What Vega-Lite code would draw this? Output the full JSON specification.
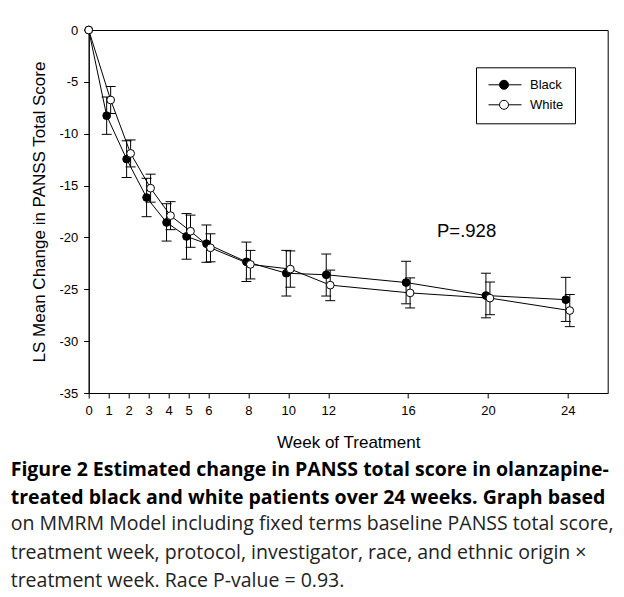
{
  "$schema": "https://vega.github.io/schema/vega-lite/v6.json",
  "autosize": {"type": "none"},
  "padding": {"left": 88.7, "top": 30, "right": 16.3, "bottom": 204},
  "width": 519,
  "height": 363,
  "background": "white",
  "config": {
    "view": {"stroke": "black", "strokeWidth": 1},
    "axis": {
      "domainColor": "black", "tickColor": "black", "labelColor": "black", "titleColor": "black",
      "labelFont": "Liberation Sans", "titleFont": "Liberation Sans",
      "labelFontSize": 13, "titleFontSize": 17, "titleFontWeight": "normal",
      "grid": false, "tickSize": 5, "domainWidth": 1, "tickWidth": 1,
      "labelExpr": "replace(datum.label, '\u2212', '-')"
    }
  },
  "title": {
    "text": ["Figure 2 Estimated change in PANSS total score in olanzapine-", "treated black and white patients over 24 weeks. Graph based"],
    "subtitle": ["on MMRM Model including fixed terms baseline PANSS total score,", "treatment week, protocol, investigator, race, and ethnic origin ×", "treatment week. Race P-value = 0.93."],
    "orient": "bottom", "anchor": "start", "frame": "group", "dx": -78, "offset": 11,
    "font": "Open Sans", "fontSize": 19.5, "fontWeight": "bold", "color": "black", "lineHeight": 28,
    "subtitleFont": "Open Sans", "subtitleFontSize": 19.5, "subtitleFontWeight": "normal", "subtitleColor": "#222",
    "subtitleLineHeight": 28.5, "subtitlePadding": 6.5
  },
  "datasets": {
    "series": [
      {"week": 0, "race": "Black", "mean": 0, "lo": null, "hi": null},
      {"week": 1, "race": "Black", "mean": -8.26, "lo": -10.06, "hi": -6.46},
      {"week": 2, "race": "Black", "mean": -12.45, "lo": -14.22, "hi": -10.68},
      {"week": 3, "race": "Black", "mean": -16.15, "lo": -18.0, "hi": -14.3},
      {"week": 4, "race": "Black", "mean": -18.55, "lo": -20.35, "hi": -16.75},
      {"week": 5, "race": "Black", "mean": -19.9, "lo": -22.1, "hi": -17.7},
      {"week": 6, "race": "Black", "mean": -20.6, "lo": -22.4, "hi": -18.8},
      {"week": 8, "race": "Black", "mean": -22.35, "lo": -24.25, "hi": -20.45},
      {"week": 10, "race": "Black", "mean": -23.45, "lo": -25.65, "hi": -21.25},
      {"week": 12, "race": "Black", "mean": -23.6, "lo": -25.65, "hi": -21.6},
      {"week": 16, "race": "Black", "mean": -24.35, "lo": -26.4, "hi": -22.3},
      {"week": 20, "race": "Black", "mean": -25.6, "lo": -27.75, "hi": -23.45},
      {"week": 24, "race": "Black", "mean": -26.0, "lo": -28.1, "hi": -23.85},
      {"week": 0, "race": "White", "mean": 0, "lo": null, "hi": null},
      {"week": 1, "race": "White", "mean": -6.75, "lo": -8.05, "hi": -5.45},
      {"week": 2, "race": "White", "mean": -11.9, "lo": -13.2, "hi": -10.6},
      {"week": 3, "race": "White", "mean": -15.25, "lo": -16.6, "hi": -13.9},
      {"week": 4, "race": "White", "mean": -17.9, "lo": -19.25, "hi": -16.55},
      {"week": 5, "race": "White", "mean": -19.4, "lo": -20.95, "hi": -17.85},
      {"week": 6, "race": "White", "mean": -21.0, "lo": -22.35, "hi": -19.65},
      {"week": 8, "race": "White", "mean": -22.6, "lo": -24.0, "hi": -21.25},
      {"week": 10, "race": "White", "mean": -23.05, "lo": -24.8, "hi": -21.3},
      {"week": 12, "race": "White", "mean": -24.6, "lo": -26.1, "hi": -23.15},
      {"week": 16, "race": "White", "mean": -25.35, "lo": -26.8, "hi": -23.9},
      {"week": 20, "race": "White", "mean": -25.85, "lo": -27.45, "hi": -24.3},
      {"week": 24, "race": "White", "mean": -27.05, "lo": -28.6, "hi": -25.5}
    ],
    "notes": [{"label": "P=.928", "week": 17.45, "value": -19.35}]
  },
  "data": {"name": "series"},
  "encoding": {
    "x": {"field": "week", "type": "quantitative",
      "scale": {"domain": [0, 26], "nice": false, "zero": false},
      "axis": {"title": "Week of Treatment", "values": [0, 1, 2, 3, 4, 5, 6, 8, 10, 12, 16, 20, 24], "labelPadding": 6, "titlePadding": 17, "labelFlush": false}},
    "y": {"field": "mean", "type": "quantitative",
      "scale": {"domain": [-35, 0], "nice": false, "zero": false},
      "axis": {"title": "LS Mean Change in PANSS Total Score", "values": [0, -5, -10, -15, -20, -25, -30, -35], "labelPadding": 6, "titlePadding": 10, "labelFlush": false}}
  },
  "layer": [
    {
      "mark": {"type": "line", "color": "black", "strokeWidth": 1, "xOffset": {"expr": "datum.week == 0 ? 0 : (datum.race == 'Black' ? -2 : 2)"}},
      "encoding": {"detail": {"field": "race", "type": "nominal"}}
    },
    {
      "mark": {"type": "rule", "color": "black", "strokeWidth": 1, "xOffset": {"expr": "datum.race == 'Black' ? -2 : 2"}},
      "encoding": {"y": {"field": "lo", "type": "quantitative"}, "y2": {"field": "hi"}}
    },
    {
      "mark": {"type": "tick", "orient": "horizontal", "size": 10, "thickness": 1, "color": "black", "opacity": 1, "xOffset": {"expr": "datum.race == 'Black' ? -2 : 2"}},
      "encoding": {"y": {"field": "lo", "type": "quantitative"}}
    },
    {
      "mark": {"type": "tick", "orient": "horizontal", "size": 10, "thickness": 1, "color": "black", "opacity": 1, "xOffset": {"expr": "datum.race == 'Black' ? -2 : 2"}},
      "encoding": {"y": {"field": "hi", "type": "quantitative"}}
    },
    {
      "mark": {"type": "point", "shape": "circle", "filled": true, "size": 60, "stroke": "black", "strokeWidth": 1, "opacity": 1, "xOffset": {"expr": "datum.week == 0 ? 0 : (datum.race == 'Black' ? -2 : 2)"}},
      "encoding": {
        "fill": {"field": "race", "type": "nominal",
          "scale": {"domain": ["Black", "White"], "range": ["black", "white"]},
          "legend": {
            "title": null, "orient": "none", "legendX": 387.3, "legendY": 37.3, "direction": "vertical",
            "padding": 11, "rowPadding": 5, "labelOffset": 30,
            "strokeColor": "black", "fillColor": "white", "cornerRadius": 0,
            "labelFont": "Liberation Sans", "labelFontSize": 13, "labelColor": "black",
            "symbolSize": 4, "symbolStrokeColor": "black", "symbolStrokeWidth": 1, "symbolOpacity": 1,
            "symbolType": "M-5,0H6M15,0H28M6,0A4.5,4.5 0 1,1 15,0A4.5,4.5 0 1,1 6,0Z"
          }}
      }
    },
    {
      "data": {"name": "notes"},
      "mark": {"type": "text", "align": "left", "baseline": "middle", "font": "Liberation Sans", "fontSize": 18.5, "color": "black"},
      "encoding": {"x": {"field": "week", "type": "quantitative"}, "y": {"field": "value", "type": "quantitative"}, "text": {"field": "label"}}
    }
  ]
}
